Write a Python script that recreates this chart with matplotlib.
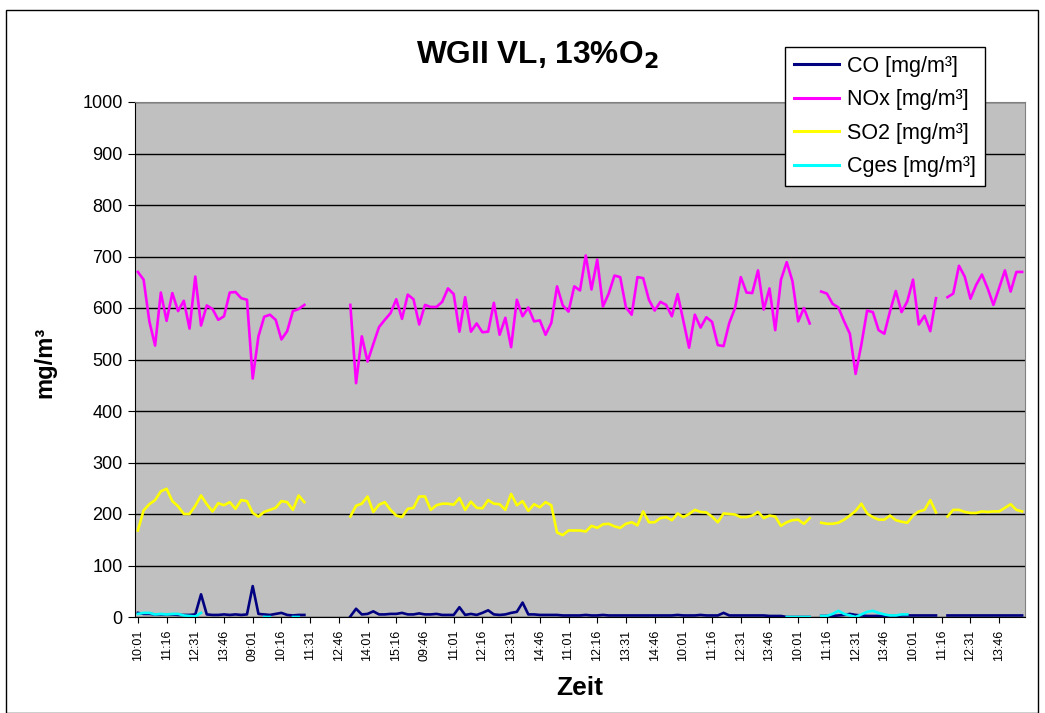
import numpy as np
import matplotlib
matplotlib.use("Agg")
import matplotlib.pyplot as plt
from matplotlib.patches import Rectangle

nan = np.nan

# one value per 15 min sample, 155 samples
nox = [
    670, 655, 574, 527, 630, 575, 629, 594, 614, 560,
    661, 566, 605, 598, 577, 584, 630, 631, 619, 616,
    463, 545, 583, 587, 577, 539, 555, 594, 598, 606,
    nan, nan, nan, nan, nan, nan, nan,
    606, 454, 545, 496, 530, 563, 577, 590, 617, 579, 626, 617, 568, 606,
    602, 602, 612, 638, 627, 554, 621, 554, 570, 553, 554, 610, 548, 581, 524,
    616, 584, 601, 574, 576, 548, 571, 642, 605, 593, 642, 634, 702, 636, 694,
    603, 628, 663, 660, 601, 587, 660, 658, 616, 595, 612, 606, 584, 627, 575,
    523, 587, 562, 582, 573, 528, 526, 571,
    600, 660, 630, 629, 673, 597, 638, 557, 655, 689, 652, 574, 600, 570,
    nan,
    632, 628, 608, 601, 574, 550, 472, 529, 595, 592, 557, 550, 594, 633, 592,
    613, 655, 568, 585, 555, 619,
    nan,
    621, 628, 682, 661, 618, 645, 665, 638, 606, 639, 673, 632, 670, 670,
]

so2 = [
    168, 207, 219, 227, 244, 249, 225, 215, 200, 200,
    216, 236, 219, 205, 221, 217, 223, 210, 227, 225,
    202, 195, 204, 208, 212, 225, 223, 208, 236, 223,
    nan, nan, nan, nan, nan, nan, nan,
    195, 216, 220, 234, 204, 218, 223, 208, 197, 194, 210, 212, 234, 234,
    208, 217, 220, 220, 218, 231, 208, 224, 212, 211, 227, 220, 219, 208, 239,
    217, 225, 206, 219, 213, 223, 217,
    164, 159, 168, 168, 168, 166, 177, 173, 180, 181, 176, 173, 181, 184, 178,
    205, 184, 184, 192, 194, 188, 201, 194, 200, 208, 204, 203, 195, 184, 201, 200,
    199, 194, 194, 197, 204, 192, 197, 195, 177, 184, 188, 189, 181, 192,
    nan,
    183, 181, 181, 183, 189, 197, 206, 220, 201, 194, 189, 189, 197, 188, 185,
    183, 197, 205, 208, 227, 203,
    nan,
    195, 208, 208, 204, 202, 202, 205, 204, 205, 205, 212, 219, 208, 205,
]

co = [
    8, 6, 6, 5, 5, 5, 5, 4, 4, 4,
    5, 44, 5, 4, 4, 5, 4, 5, 4, 5,
    60, 6, 5, 4, 6, 8, 4, 3, 4, 4,
    nan, nan, nan, nan, nan, nan, nan,
    1, 16, 5, 6, 11, 5, 5, 6, 6, 8, 5, 5, 7, 5,
    5, 6, 4, 4, 4, 19, 4, 6, 4, 8, 13, 5, 4, 5, 8, 10, 28, 5,
    5, 4, 4, 4, 4, 3, 3, 3, 3, 4, 3, 3, 4, 3, 3, 3, 3,
    3, 3, 3, 3, 3, 3, 3, 3, 4, 3, 3, 3, 4, 3, 3, 3,
    8, 3,
    3, 3, 3, 3, 3, 3, 2, 2, 2, 0, 0, 0, 0, 0,
    nan,
    2, 2, 2, 3, 4, 6, 4, 3, 2, 2, 2, 2, 2, 2, 3, 3, 3, 3, 3, 3, 3,
    nan,
    3, 3, 3, 3, 3, 3, 3, 3, 3, 3, 3, 3, 3, 3,
]

cges = (
    [6, 8, 8, 5, 6, 5, 6, 6, 3, 2, 1, 8]
    + [nan] * 10
    + [0, 0]
    + [nan] * 3
    + [0, 0]
    + [nan] * 84
    + [0, 0, 0, 0, 0]
    + [nan]
    + [2, 2, 6, 12, 6, 3, 0, 5, 10, 12, 8, 5, 3, 3, 5, 5]
    + [nan] * 20
)

tick_labels = [
    "10:01", "11:16", "12:31", "13:46", "09:01", "10:16", "11:31", "12:46",
    "14:01", "15:16", "09:46", "11:01", "12:16", "13:31", "14:46", "11:01",
    "12:16", "13:31", "14:46", "10:01", "11:16", "12:31", "13:46", "10:01",
    "11:16", "12:31", "13:46", "10:01", "11:16", "12:31", "13:46",
]

plt.rcParams["font.family"] = ["Liberation Sans", "DejaVu Sans"]

fig = plt.figure(figsize=(10.45, 7.13), dpi=100)
ax = fig.add_axes([135 / 1045, 96 / 713, 890 / 1045, 515 / 713])
ax.set_facecolor("#C0C0C0")

x = np.arange(len(nox))
series = [
    (co, "#000080", "CO [mg/m³]"),
    (nox, "#FF00FF", "NOx [mg/m³]"),
    (so2, "#FFFF00", "SO2 [mg/m³]"),
    (cges, "#00FFFF", "Cges [mg/m³]"),
]
for vals, col, lab in series:
    ax.plot(x, np.array(vals, dtype=float), color=col, lw=1.9, label=lab)

ax.set_xlim(-0.5, len(nox) - 0.5)
ax.set_ylim(0, 1000)
ax.set_yticks(range(0, 1001, 100))
ax.tick_params(axis="y", labelsize=13, length=5, direction="out", pad=4)
ax.set_xticks(np.arange(0, len(nox), 5))
ax.set_xticklabels(tick_labels, rotation=90, fontsize=9)
ax.tick_params(axis="x", length=4, pad=5)
ax.grid(axis="y", color="black", lw=1)
ax.set_axisbelow(True)
for side in ["top", "right"]:
    ax.spines[side].set_color("#808080")
ax.spines["left"].set_color("black")
ax.spines["bottom"].set_color("black")

fig.text(45 / 1045, 1 - 362 / 713, "mg/m³", rotation=90, fontsize=17,
         fontweight="bold", ha="center", va="center")
fig.text(580 / 1045, 1 - 688 / 713, "Zeit", fontsize=19, fontweight="bold",
         ha="center", va="center")
fig.text(537 / 1045, 1 - 55 / 713, r"WGII VL, 13%O$_\mathbf{2}$", fontsize=22.8,
         fontweight="bold", ha="center", va="center")

leg = ax.legend(loc="upper left", bbox_to_anchor=(785 / 1045, 1 - 47 / 713),
                bbox_transform=fig.transFigure, fontsize=15.5, frameon=True,
                fancybox=False, edgecolor="black", framealpha=1,
                handlelength=2.1, labelspacing=0.58, borderpad=0.4,
                handletextpad=0.4, borderaxespad=0)
leg.get_frame().set_linewidth(1)
for h in leg.get_lines():
    h.set_linewidth(2.2)

fig.patches.append(Rectangle((6 / 1045, 0), 1032 / 1045, 1 - 10 / 713,
                             transform=fig.transFigure, fill=False,
                             edgecolor="black", lw=1))

plt.savefig("out.png", dpi=100)
